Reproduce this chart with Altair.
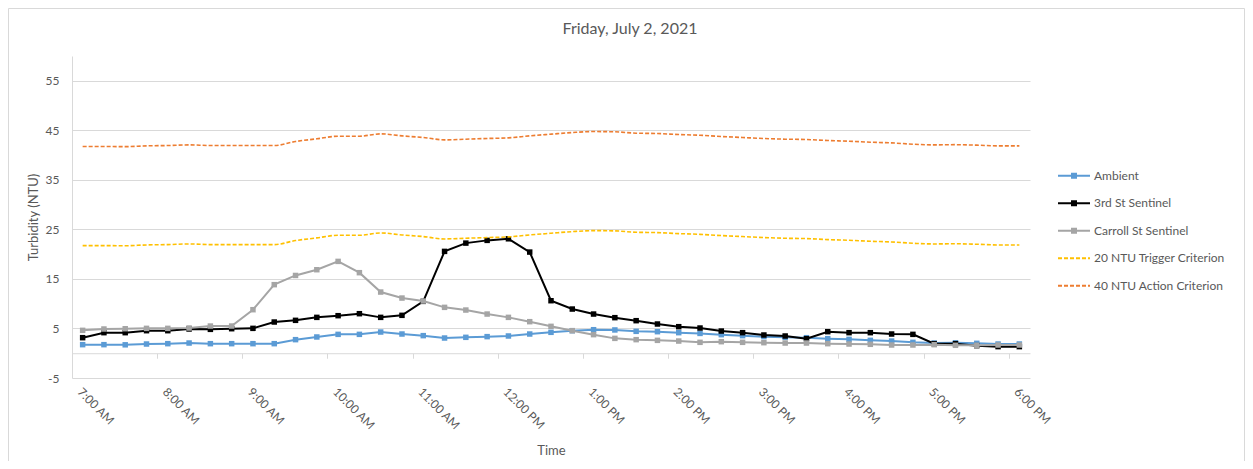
import altair as alt
import pandas as pd

# 15-minute readings, 7:00 AM to 6:00 PM
times = pd.date_range("2021-07-02 07:00", "2021-07-02 18:00", freq="15min").strftime("%Y-%m-%dT%H:%M:%S").tolist()

ambient = [1.73, 1.73, 1.70, 1.86, 1.93, 2.06, 1.93, 1.93, 1.93, 1.93, 2.74, 3.28, 3.81, 3.81, 4.28,
           3.88, 3.55, 3.07, 3.21, 3.35, 3.48, 3.88, 4.22, 4.55, 4.75, 4.70, 4.42, 4.35, 4.15, 4.00,
           3.75, 3.55, 3.35, 3.21, 3.14, 2.94, 2.80, 2.60, 2.46, 2.20, 2.06, 2.10, 2.00, 1.86, 1.86]
third_st = [3.14, 4.15, 4.15, 4.55, 4.55, 4.89, 4.82, 4.95, 5.02, 6.30, 6.64, 7.24, 7.58, 7.98, 7.24,
            7.65, 10.47, 20.56, 22.23, 22.78, 23.10, 20.42, 10.60, 8.92, 7.91, 7.18, 6.57, 5.90, 5.36, 5.09,
            4.48, 4.15, 3.68, 3.48, 2.94, 4.35, 4.15, 4.15, 3.88, 3.81, 1.93, 1.93, 1.53, 1.33, 1.33]
carroll_st = [4.62, 4.89, 4.95, 5.02, 5.02, 5.09, 5.49, 5.49, 8.79, 13.84, 15.70, 16.86, 18.54, 16.26, 12.35,
              11.14, 10.53, 9.26, 8.72, 7.91, 7.24, 6.37, 5.43, 4.55, 3.75, 3.00, 2.74, 2.60, 2.46, 2.20,
              2.33, 2.20, 2.13, 2.06, 2.06, 1.93, 1.86, 1.80, 1.66, 1.66, 1.73, 1.60, 1.60, 1.66, 1.66]
trigger_20 = [21.73, 21.73, 21.70, 21.86, 21.93, 22.06, 21.93, 21.93, 21.93, 21.93, 22.74, 23.28, 23.81, 23.81, 24.28,
              23.88, 23.55, 23.07, 23.21, 23.35, 23.48, 23.88, 24.22, 24.55, 24.75, 24.70, 24.42, 24.35, 24.15, 24.00,
              23.75, 23.55, 23.35, 23.21, 23.14, 22.94, 22.80, 22.60, 22.46, 22.20, 22.06, 22.10, 22.00, 21.86, 21.86]
action_40 = [41.73, 41.73, 41.70, 41.86, 41.93, 42.06, 41.93, 41.93, 41.93, 41.93, 42.74, 43.28, 43.81, 43.81, 44.28,
             43.88, 43.55, 43.07, 43.21, 43.35, 43.48, 43.88, 44.22, 44.55, 44.75, 44.70, 44.42, 44.35, 44.15, 44.00,
             43.75, 43.55, 43.35, 43.21, 43.14, 42.94, 42.80, 42.60, 42.46, 42.20, 42.06, 42.10, 42.00, 41.86, 41.86]

sensor_names = ["Ambient", "3rd St Sentinel", "Carroll St Sentinel"]
sensor_colors = ["#5B9BD5", "#000000", "#A5A5A5"]
criteria_names = ["20 NTU Trigger Criterion", "40 NTU Action Criterion"]
criteria_colors = ["#FFC000", "#ED7D31"]
y_ticks = [-5, 5, 15, 25, 35, 45, 55]

sensor_df = pd.DataFrame({
    "time": times * 3,
    "series": [s for s in sensor_names for _ in times],
    "value": ambient + third_st + carroll_st,
})
criteria_df = pd.DataFrame({
    "time": times * 2,
    "series": [s for s in criteria_names for _ in times],
    "value": trigger_20 + action_40,
})

FONT = "Lato"
TXT = "#595959"
GRID = "#d9d9d9"


def dt(h, m=0, s=0):
    return alt.DateTime(year=2021, month=7, date=2, hours=h, minutes=m, seconds=s)


x_scale = alt.Scale(domain=[dt(6, 52, 30), dt(18, 7, 30)])
y_scale = alt.Scale(domain=[-5, 60], nice=False, zero=False)

y_axis = alt.Axis(values=y_ticks, labelExpr="datum.value + ''", domain=True, domainColor=GRID, ticks=False,
                  grid=True, gridColor=GRID,
                  labelPadding=13, labelFont=FONT, labelFontSize=12, labelColor=TXT,
                  title="Turbidity (NTU)", titleFont=FONT, titleFontSize=13, titleFontWeight="normal",
                  titleColor=TXT, titleX=-39, titleY=161, titleBaseline="middle", titleAngle=270)

x_label_axis = alt.Axis(orient="bottom", values=[dt(h) for h in range(7, 19)], format="%-I:%M %p",
                        labelAngle=45, labelAlign="left", labelBaseline="top", labelPadding=8,
                        labelOverlap=False, labelFlush=False, labelFont=FONT, labelFontSize=12, labelColor=TXT,
                        domain=False, ticks=False, grid=False,
                        title="Time", titleFont=FONT, titleFontSize=13, titleFontWeight="normal", titleColor=TXT,
                        titleY=76, titleBaseline="alphabetic")

x_tick_axis = alt.Axis(orient="bottom", values=[dt(h, 52, 30) for h in range(6, 18)], labels=False,
                       ticks=True, tickSize=5, tickColor=GRID, domain=True, domainColor=GRID, grid=False,
                       offset=-24.77, title=None)

legend1 = alt.Legend(title=None, orient="none", legendX=991, legendY=108.7,
                     symbolType="M-1.6,0L1.6,0M-0.2,-0.2L0.2,-0.2L0.2,0.2L-0.2,0.2Z",
                     symbolSize=400, symbolStrokeWidth=2, symbolOpacity=1,
                     labelFont=FONT, labelFontSize=12, labelColor=TXT, labelOffset=9,
                     rowPadding=10.5, padding=0)
legend2 = alt.Legend(title=None, orient="none", legendX=991, legendY=191.3,
                     symbolType="M-1.6,0L1.6,0", symbolSize=400, symbolStrokeWidth=2,
                     symbolDash=[4, 2], symbolOpacity=1,
                     labelFont=FONT, labelFontSize=12, labelColor=TXT, labelOffset=9,
                     rowPadding=10.5, padding=0)

color_enc = alt.Color("series:N", scale=alt.Scale(domain=sensor_names, range=sensor_colors), legend=legend1)

border = alt.Chart(alt.Data(values=[{"a": 1}])).mark_rect(
    filled=False, stroke=GRID, strokeWidth=1, clip=False
).encode(x=alt.value(-63.5), x2=alt.value(1172.5), y=alt.value(-47.5), y2=alt.value(420))

layers = [border]
for i, name in enumerate(sensor_names):
    src = alt.Chart(sensor_df).transform_filter(alt.datum.series == name)
    line = src.mark_line(strokeWidth=2).encode(
        x=alt.X("time:T", scale=x_scale, axis=x_label_axis if i == 0 else None),
        y=alt.Y("value:Q", scale=y_scale, axis=y_axis),
        color=color_enc,
    )
    pts = src.mark_square(size=30, filled=True, opacity=1).encode(
        x=alt.X("time:T", scale=x_scale, axis=None),
        y=alt.Y("value:Q", scale=y_scale, axis=y_axis),
        color=color_enc,
    )
    layers += [line, pts]

crit = alt.Chart(criteria_df).mark_line(strokeWidth=1.6, strokeDash=[4, 2], interpolate="monotone").encode(
    x=alt.X("time:T", scale=x_scale, axis=x_tick_axis),
    y=alt.Y("value:Q", scale=y_scale, axis=y_axis),
    stroke=alt.Stroke("series:N", scale=alt.Scale(domain=criteria_names, range=criteria_colors), legend=legend2),
)
layers.append(crit)

chart = alt.layer(*layers).resolve_axis(x="independent").properties(
    width=958, height=322,
    padding={"left": 64, "top": 48, "right": 215, "bottom": 83},
    autosize=alt.AutoSizeParams(type="none"),
    title=alt.TitleParams("Friday, July 2, 2021", font=FONT, fontSize=16, fontWeight="normal", color=TXT,
                          anchor="middle", frame="group", dx=79, dy=63, offset=21, baseline="alphabetic"),
    background="white",
).configure_view(strokeWidth=0)

chart.save("out.html", embed_options={"renderer": "svg", "actions": False})
